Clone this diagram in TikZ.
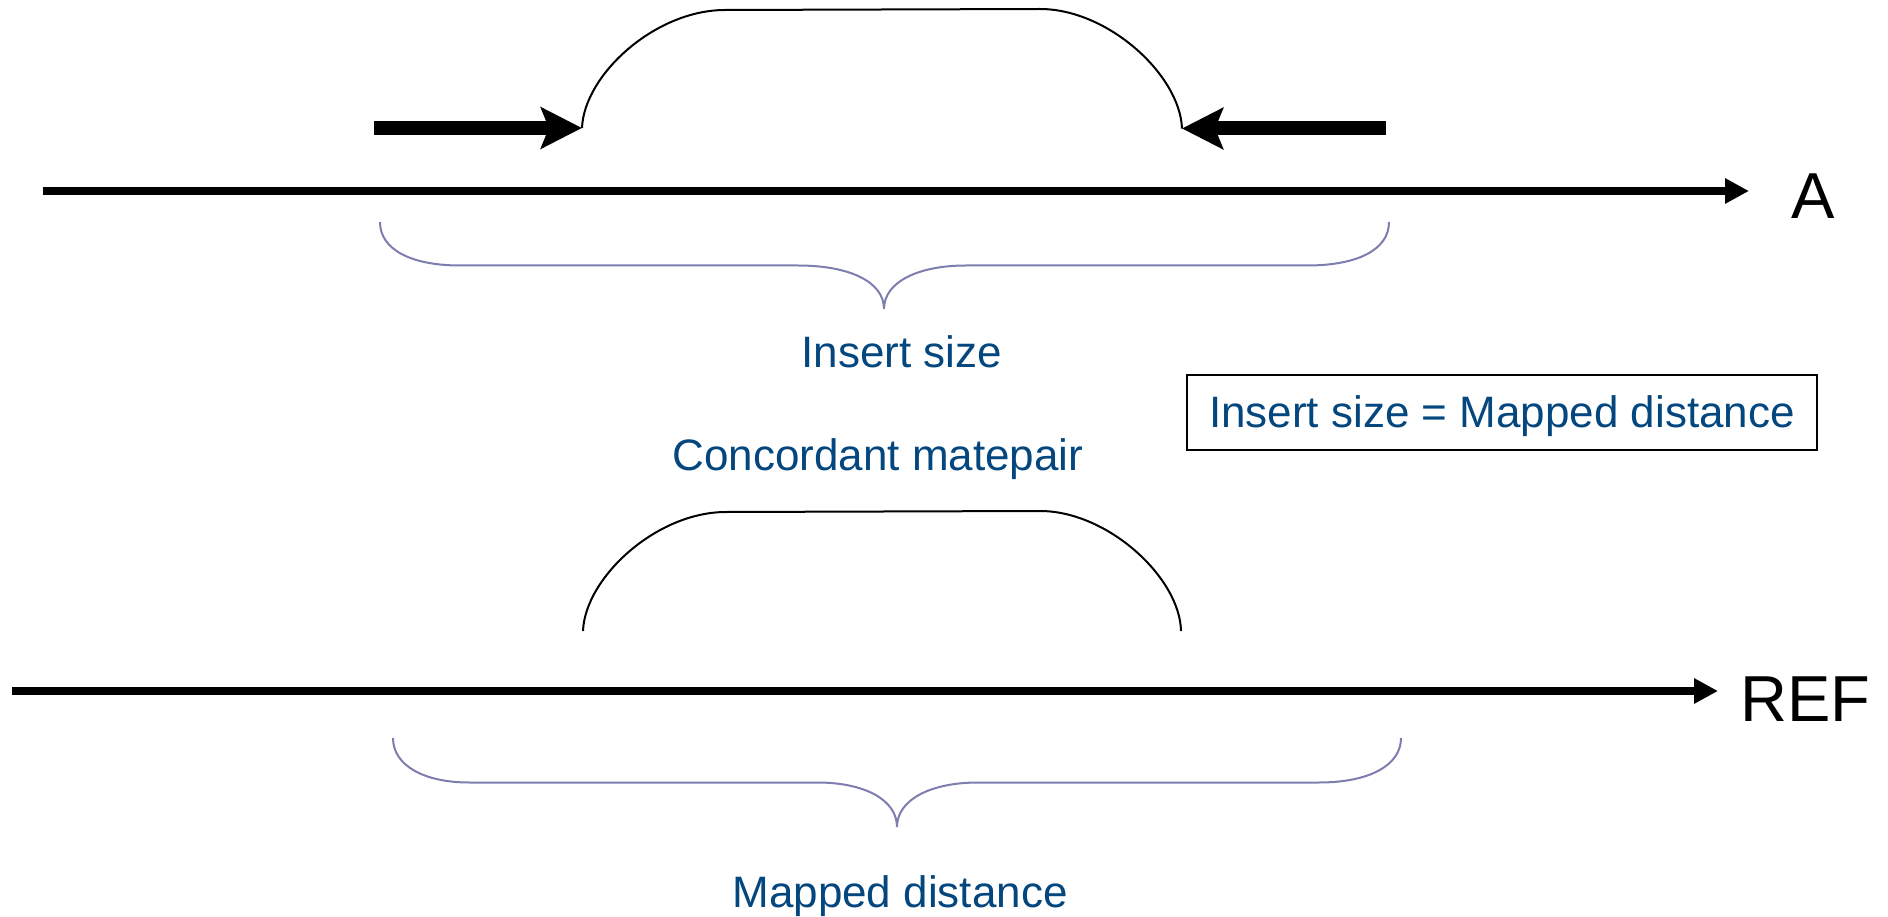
\documentclass[tikz,border=0pt]{standalone}
\usepackage{fontspec}
\setmainfont{Liberation Sans}
\usetikzlibrary{arrows.meta,positioning}
\definecolor{labelblue}{RGB}{4,70,126}
\definecolor{bracegray}{RGB}{125,125,175}

\begin{document}
\begin{tikzpicture}[x=1pt,y=-1pt,
	strand/.style={line width=8.3pt, -{Triangle[length=24pt,width=24pt]}},
	readarrow/.style={line width=14pt, -{Stealth[length=41pt,width=41pt,inset=8pt]}},
	pairarc/.style={line width=2pt},
	bracket/.style={bracegray, line width=2pt},
	bluetext/.style={text=labelblue, font=\fontsize{44}{50}\selectfont, inner sep=0pt},
	seqname/.style={font=\fontsize{65}{72}\selectfont, inner sep=0pt}]

	\useasboundingbox (0,0) rectangle (1888,917);

	% sequence A with the two reads
	\node[seqname, anchor=west] (A) at (1791,196.5) {A};
	\coordinate (astart) at (43,191);
	\coordinate (aend) at (1749,191);
	\draw[strand] (astart) -- (aend);

	\coordinate (fwd) at (374,128);
	\coordinate (lfoot) at (582,128);
	\coordinate (rev) at (1386,128.5);
	\coordinate (rfoot) at (1182,128.5);
	\draw[readarrow] (fwd) -- (lfoot);
	\draw[readarrow] (rev) -- (rfoot);

	\draw[pairarc] (lfoot) .. controls (584,75) and (655,10) .. (725,10)
		-- (1040,9) .. controls (1108,9) and (1180,75) .. (rfoot);

	\draw[bracket] (380,222) .. controls (380,250) and (412,265.5) .. (460,265.5)
		-- (798,265.5) .. controls (850,265.5) and (884,282) .. (884,309)
		.. controls (884,282) and (918,265.5) .. (966,265.5)
		-- (1307,265.5) .. controls (1357,265.5) and (1389,250) .. (1389,222);

	\node[bluetext, anchor=base] (insert) at (902,367) {Insert size};

	\node[bluetext, draw=black, line width=2.5pt, text height=31pt, text depth=1pt,
		minimum width=630pt, minimum height=75pt] (equal) at (1502,412.5)
		{Insert size = Mapped distance};

	\node[bluetext, anchor=base] (concordant) at (878,470) {Concordant matepair};

	% reference with the mapped pair
	\node[seqname, anchor=west] (REF) at (1740,699) {REF};
	\coordinate (refstart) at (12,691);
	\coordinate (refend) at (1718,691);
	\draw[strand] (refstart) -- (refend);

	\coordinate (lmap) at (583,631);
	\coordinate (rmap) at (1181,631);
	\draw[pairarc] (lmap) .. controls (585,578) and (656,512) .. (726,512)
		-- (1040,511) .. controls (1108,511) and (1180,578) .. (rmap);

	\draw[bracket] (393,738) .. controls (393,766) and (425,782.5) .. (469,782.5)
		-- (817,782.5) .. controls (865,782.5) and (897,800) .. (897,827)
		.. controls (897,800) and (930,782.5) .. (978,782.5)
		-- (1319,782.5) .. controls (1368,782.5) and (1401,766) .. (1401,738);

	\node[bluetext, anchor=base] (mapped) at (900,907) {Mapped distance};

\end{tikzpicture}
\end{document}
